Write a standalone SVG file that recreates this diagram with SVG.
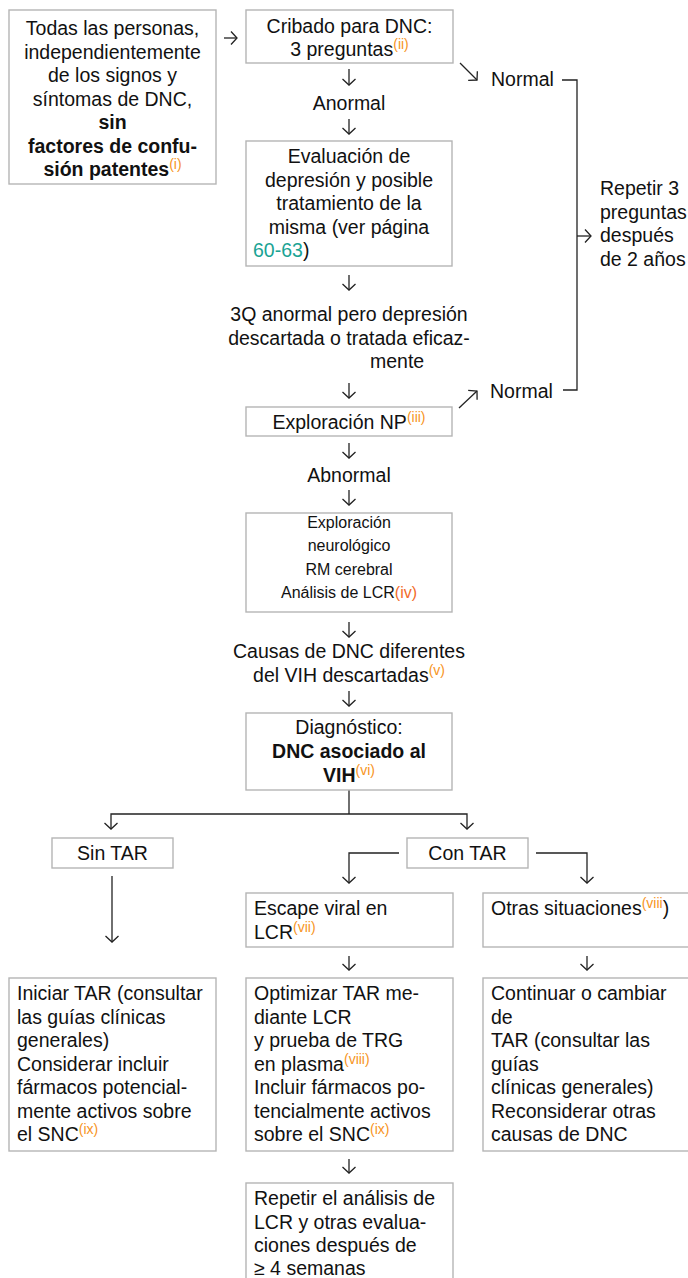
<svg xmlns="http://www.w3.org/2000/svg" width="688" height="1278" viewBox="0 0 688 1278">
  <style>
    text { font-family: "Liberation Sans", Arial, sans-serif; font-size: 19.5px; fill: #111; }
    .c { text-anchor: middle; }
    .b { font-weight: bold; }
    .sm { font-size: 16px; }
    .sup { font-size: 14px; fill: #f7941d; font-weight: normal; }
    .link { fill: #1aa394; }
    .box { fill: #fff; stroke: #b5b5b5; stroke-width: 1.4; }
    .conn { fill: none; stroke: #222; stroke-width: 1.3; }
  </style>
  <defs>
    <marker id="head" viewBox="-8 -8 16 16" markerWidth="16" markerHeight="16" markerUnits="userSpaceOnUse" orient="auto" refX="0" refY="0">
      <path d="M-6,-6.5 L0,0 L-6,6.5" fill="none" stroke="#222" stroke-width="1.3"/>
    </marker>
  </defs>
  <rect width="688" height="1278" fill="#fff"/>

  <!-- connectors -->
  <g id="connectors" class="conn">
    <path d="M224,38 H237" marker-end="url(#head)"/>
    <path d="M460,63 L477,80" marker-end="url(#head)"/>
    <path d="M349,69 V85" marker-end="url(#head)"/>
    <path d="M349,119 V134" marker-end="url(#head)"/>
    <path d="M349,275 V290" marker-end="url(#head)"/>
    <path d="M349,383 V398" marker-end="url(#head)"/>
    <path d="M459,408 L477,391" marker-end="url(#head)"/>
    <path d="M562,80 H577 V390 H563"/>
    <path d="M577,236 H591" marker-end="url(#head)"/>
    <path d="M349,443 V458" marker-end="url(#head)"/>
    <path d="M349,490 V505" marker-end="url(#head)"/>
    <path d="M349,622 V637" marker-end="url(#head)"/>
    <path d="M349,691 V706" marker-end="url(#head)"/>
    <path d="M349,790 V814"/>
    <path d="M349,814 H111 V829" marker-end="url(#head)"/>
    <path d="M349,814 H467 V829" marker-end="url(#head)"/>
    <path d="M399,853 H349 V883" marker-end="url(#head)"/>
    <path d="M536,853 H587 V883" marker-end="url(#head)"/>
    <path d="M112,876 V942" marker-end="url(#head)"/>
    <path d="M349,956 V970" marker-end="url(#head)"/>
    <path d="M587,956 V970" marker-end="url(#head)"/>
    <path d="M349,1159 V1173" marker-end="url(#head)"/>
  </g>

  <!-- nodes -->
  <g id="start">
    <rect class="box" x="9" y="10" width="207" height="174"/>
    <text class="c" x="112.5" y="35">Todas las personas,</text>
    <text class="c" x="112.5" y="58.5">independientemente</text>
    <text class="c" x="112.5" y="82">de los signos y</text>
    <text class="c" x="112.5" y="105.5">síntomas de DNC,</text>
    <text class="c b" x="112.5" y="129">sin</text>
    <text class="c b" x="112.5" y="152.5">factores de confu-</text>
    <text class="c b" x="112.5" y="176">sión patentes<tspan class="sup" dy="-7">(i)</tspan></text>
  </g>

  <g id="cribado">
    <rect class="box" x="246" y="10" width="207" height="53"/>
    <text class="c" x="349.5" y="33">Cribado para DNC:</text>
    <text class="c" x="349.5" y="56">3 preguntas<tspan class="sup" dy="-7">(ii)</tspan></text>
  </g>

  <g id="normal-1">
    <text x="491" y="86">Normal</text>
  </g>

  <g id="anormal">
    <text class="c" x="349" y="110">Anormal</text>
  </g>

  <g id="depresion">
    <rect class="box" x="246" y="141" width="206" height="125"/>
    <text class="c" x="349" y="163">Evaluación de</text>
    <text class="c" x="349" y="186.5">depresión y posible</text>
    <text class="c" x="349" y="210">tratamiento de la</text>
    <text class="c" x="349" y="233.5">misma (ver página</text>
    <text x="253" y="257"><tspan class="link">60-63</tspan>)</text>
  </g>

  <g id="repetir">
    <text x="600" y="195">Repetir 3</text>
    <text x="600" y="218.5">preguntas</text>
    <text x="600" y="242">después</text>
    <text x="600" y="265.5">de 2 años</text>
  </g>

  <g id="tres-q">
    <text class="c" x="349" y="321">3Q anormal pero depresión</text>
    <text class="c" x="349" y="344.5">descartada o tratada eficaz-</text>
    <text x="370" y="368">mente</text>
  </g>

  <g id="exploracion-np">
    <rect class="box" x="246" y="407" width="206" height="29"/>
    <text class="c" x="349" y="428.5">Exploración NP<tspan class="sup" dy="-7">(iii)</tspan></text>
  </g>

  <g id="normal-2">
    <text x="490" y="398">Normal</text>
  </g>

  <g id="abnormal">
    <text class="c" x="349" y="482">Abnormal</text>
  </g>

  <g id="exploracion">
    <rect class="box" x="246" y="513" width="206" height="99"/>
    <text class="c sm" x="349" y="527.5">Exploración</text>
    <text class="c sm" x="349" y="551">neurológico</text>
    <text class="c sm" x="349" y="574.5">RM cerebral</text>
    <text class="c sm" x="349" y="598">Análisis de LCR<tspan fill="#f26b2a">(iv)</tspan></text>
  </g>

  <g id="causas">
    <text class="c" x="349" y="658">Causas de DNC diferentes</text>
    <text class="c" x="349" y="682">del VIH descartadas<tspan class="sup" dy="-7">(v)</tspan></text>
  </g>

  <g id="diagnostico">
    <rect class="box" x="246" y="713" width="206" height="77"/>
    <text class="c" x="349" y="734">Diagnóstico:</text>
    <text class="c b" x="349" y="758">DNC asociado al</text>
    <text class="c b" x="349" y="782">VIH<tspan class="sup" dy="-7">(vi)</tspan></text>
  </g>

  <g id="sin-tar">
    <rect class="box" x="52" y="838" width="121" height="30"/>
    <text class="c" x="112.5" y="860">Sin TAR</text>
  </g>

  <g id="con-tar">
    <rect class="box" x="407" y="838" width="121" height="30"/>
    <text class="c" x="467.5" y="860">Con TAR</text>
  </g>

  <g id="escape">
    <rect class="box" x="246" y="893" width="207" height="54"/>
    <text x="254" y="915">Escape viral en</text>
    <text x="254" y="938.5">LCR<tspan class="sup" dy="-7">(vii)</tspan></text>
  </g>

  <g id="otras">
    <rect class="box" x="483" y="893" width="210" height="54"/>
    <text x="491" y="915">Otras situaciones<tspan class="sup" dy="-7">(viii</tspan><tspan dy="7">)</tspan></text>
  </g>

  <g id="iniciar">
    <rect class="box" x="9" y="978" width="207" height="173"/>
    <text x="17" y="1000">Iniciar TAR (consultar</text>
    <text x="17" y="1023.5">las guías clínicas</text>
    <text x="17" y="1047">generales)</text>
    <text x="17" y="1070.5">Considerar incluir</text>
    <text x="17" y="1094">fármacos potencial-</text>
    <text x="17" y="1117.5">mente activos sobre</text>
    <text x="17" y="1141">el SNC<tspan class="sup" dy="-7">(ix)</tspan></text>
  </g>

  <g id="optimizar">
    <rect class="box" x="246" y="978" width="207" height="173"/>
    <text x="254" y="1000">Optimizar TAR me-</text>
    <text x="254" y="1023.5">diante LCR</text>
    <text x="254" y="1047">y prueba de TRG</text>
    <text x="254" y="1070.5">en plasma<tspan class="sup" dy="-7">(viii)</tspan></text>
    <text x="254" y="1094">Incluir fármacos po-</text>
    <text x="254" y="1117.5">tencialmente activos</text>
    <text x="254" y="1141">sobre el SNC<tspan class="sup" dy="-7">(ix)</tspan></text>
  </g>

  <g id="continuar">
    <rect class="box" x="483" y="978" width="210" height="173"/>
    <text x="491" y="1000">Continuar o cambiar</text>
    <text x="491" y="1023.5">de</text>
    <text x="491" y="1047">TAR (consultar las</text>
    <text x="491" y="1070.5">guías</text>
    <text x="491" y="1094">clínicas generales)</text>
    <text x="491" y="1117.5">Reconsiderar otras</text>
    <text x="491" y="1141">causas de DNC</text>
  </g>

  <g id="repetir-lcr">
    <rect class="box" x="246" y="1183" width="207" height="110"/>
    <text x="254" y="1205">Repetir el análisis de</text>
    <text x="254" y="1228.5">LCR y otras evalua-</text>
    <text x="254" y="1252">ciones después de</text>
    <text x="254" y="1275">≥ 4 semanas</text>
  </g>
</svg>
